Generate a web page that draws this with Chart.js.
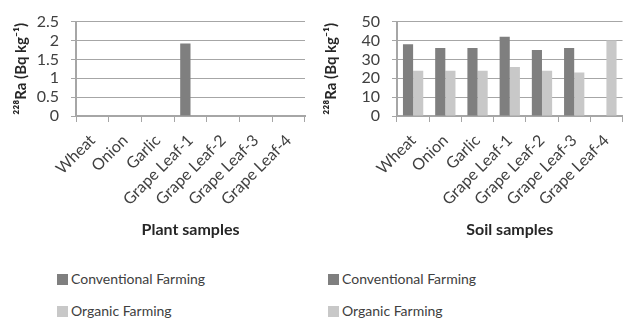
<!DOCTYPE html>
<html>
<head>
<meta charset="utf-8">
<script src="https://cdn.jsdelivr.net/npm/chart.js@4.4.0/dist/chart.umd.min.js"></script>
<style>
    html, body { margin: 0; padding: 0; background: #fff; overflow: hidden; }
    body { width: 627px; height: 322px; position: relative; font-family: Lato, sans-serif; }
    .panel { position: absolute; top: 0; height: 250px; }
    #plantPanel { left: 0; width: 312px; }
    #soilPanel { left: 310px; width: 319px; }
    .legend { position: absolute; top: 266px; font-size: 14px; color: #404040; }
    .legend .item { height: 32px; line-height: 26px; white-space: nowrap; }
    .legend .swatch { display: inline-block; width: 11px; height: 11px; margin-right: 3px; vertical-align: -1px; }
    #plantLegend { left: 57px; }
    #soilLegend { left: 328px; }
</style>
</head>
<body>
<div class="panel" id="plantPanel"><canvas id="plantChart"></canvas></div>
<div class="panel" id="soilPanel"><canvas id="soilChart"></canvas></div>
<div class="legend" id="plantLegend"></div>
<div class="legend" id="soilLegend"></div>
<script>
const samples = ['Wheat', 'Onion', 'Garlic', 'Grape Leaf-1', 'Grape Leaf-2', 'Grape Leaf-3', 'Grape Leaf-4'];
const seriesNames = ['Conventional Farming', 'Organic Farming'];
const seriesColors = ['#7f7f7f', '#c8c8c8'];

// Plant samples (Bq/kg)
const plantConventional = [0, 0, 0, 1.92, 0, 0, 0];
const plantOrganic = [0, 0, 0, 0, 0, 0, 0];

// Soil samples (Bq/kg)
const soilConventional = [38, 36, 36, 42, 35, 36, null];
const soilOrganic = [24, 24, 24, 26, 24, 23, 40];

const plantAxis = { max: 2.5, step: 0.5 };
const soilAxis = { max: 50, step: 10 };

const axisGray = '#a6a6a6';
const textColor = '#404040';

function buildChart(canvasId, legendId, conv, org, axis, xTitle, yWidth, padRight) {
    const ctx = document.getElementById(canvasId).getContext('2d');
    const chart = new Chart(ctx, {
        type: 'bar',
        data: {
            labels: samples,
            datasets: [conv, org].map((values, i) => ({
                label: seriesNames[i],
                data: values,
                backgroundColor: seriesColors[i],
                borderWidth: 0,
                categoryPercentage: 0.63,
                barPercentage: 1.0
            }))
        },
        options: {
            responsive: true,
            maintainAspectRatio: false,
            animation: false,
            layout: { padding: { left: 12, right: padRight, top: 7, bottom: 0 } },
            plugins: {
                legend: { display: false },
                tooltip: { enabled: false }
            },
            scales: {
                x: {
                    grid: { display: true, drawOnChartArea: false, drawTicks: true, tickLength: 6, color: axisGray, offset: true },
                    border: { color: axisGray, width: 2 },
                    ticks: { color: textColor, font: { family: 'Lato', size: 16 }, minRotation: 45, maxRotation: 45, padding: 9, autoSkip: false },
                    title: {
                        display: true,
                        text: xTitle,
                        color: '#262626',
                        font: { family: 'Lato', size: 16, weight: 'bold' },
                        padding: { top: 0, bottom: 11 }
                    },
                    afterFit: scale => { scale.height = 134; }
                },
                y: {
                    min: 0,
                    max: axis.max,
                    grid: { color: axisGray, tickLength: 5 },
                    border: { color: axisGray, width: 2 },
                    ticks: {
                        stepSize: axis.step,
                        autoSkip: false,
                        color: textColor,
                        font: { family: 'Lato', size: 16 },
                        padding: 12,
                        callback: v => String(v)
                    },
                    title: {
                        display: true,
                        text: '²²⁸Ra (Bq kg⁻¹)',
                        color: '#262626',
                        font: { family: 'Lato', size: 15, weight: 'bold' },
                        padding: { top: 0, bottom: 0 }
                    },
                    afterFit: scale => { scale.width = yWidth; }
                }
            }
        }
    });

    // legend as html list, taken from the chart datasets
    const legend = document.getElementById(legendId);
    chart.data.datasets.forEach(ds => {
        const item = document.createElement('div');
        item.className = 'item';
        item.innerHTML = '<span class="swatch" style="background:' + ds.backgroundColor + '"></span>' + ds.label;
        legend.appendChild(item);
    });
    return chart;
}

buildChart('plantChart', 'plantLegend', plantConventional, plantOrganic, plantAxis, 'Plant samples', 64, 7);
buildChart('soilChart', 'soilLegend', soilConventional, soilOrganic, soilAxis, 'Soil samples', 75, 0);
</script>
</body>
</html>
